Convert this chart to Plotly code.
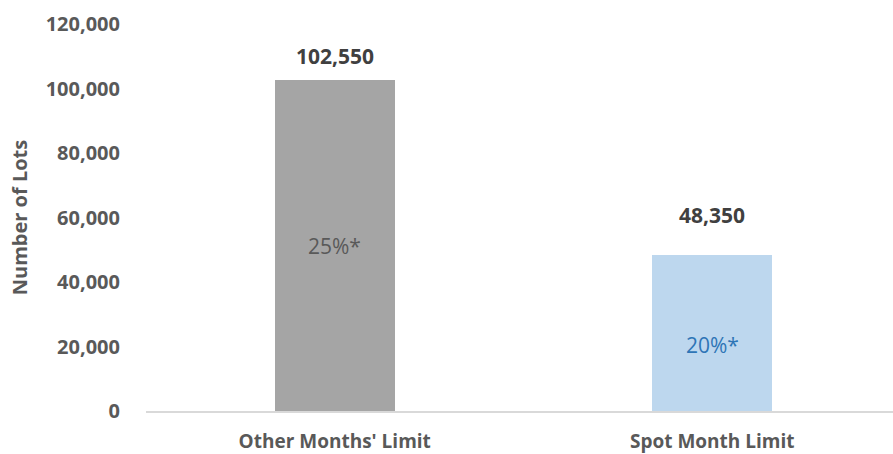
import plotly.graph_objects as go

categories = ["Other Months' Limit", "Spot Month Limit"]
values = [102550, 48350]
inner_labels = ["25%*", "20%*"]
bar_colors = ["#a5a5a5", "#bdd7ee"]
inner_colors = ["#595959", "#2e75b6"]
inner_yshift = [0, -12]
top_yshift = [24, 40]

FONT = "Open Sans"

fig = go.Figure()
fig.add_trace(go.Bar(
    x=categories, y=values,
    marker=dict(color=bar_colors, line=dict(width=0)),
    width=0.318,
    hoverinfo="skip",
))

for c, v, lab, col, ys, ts in zip(categories, values, inner_labels, inner_colors,
                                  inner_yshift, top_yshift):
    fig.add_annotation(x=c, y=v, text=f"<b>{v:,}</b>", showarrow=False,
                       yshift=ts, font=dict(family=FONT, size=21, color="#404040"))
    fig.add_annotation(x=c, y=v / 2, text=lab, showarrow=False, yshift=ys,
                       font=dict(family=FONT, size=21, color=col))

fig.update_layout(
    width=893, height=454,
    margin=dict(l=146, r=0, t=24, b=43),
    plot_bgcolor="white", paper_bgcolor="white",
    showlegend=False,
    bargap=0,
    xaxis=dict(
        range=[-0.5, 1.479],
        showline=True, linecolor="#d9d9d9", linewidth=2,
        showgrid=False, ticks="",
        ticklabelstandoff=12,
        tickfont=dict(family=FONT, size=19, color="#595959", weight="bold"),
        fixedrange=True,
    ),
    yaxis=dict(
        range=[0, 120000], dtick=20000, tickformat=",d",
        showgrid=False, zeroline=False, showline=False, ticks="",
        ticklabelstandoff=25,
        tickfont=dict(family=FONT, size=20, color="#595959", weight="bold"),
        title=dict(text="Number of Lots", standoff=12,
                   font=dict(family=FONT, size=20, color="#595959", weight="bold")),
        fixedrange=True,
    ),
)

fig.write_html("out.html")
